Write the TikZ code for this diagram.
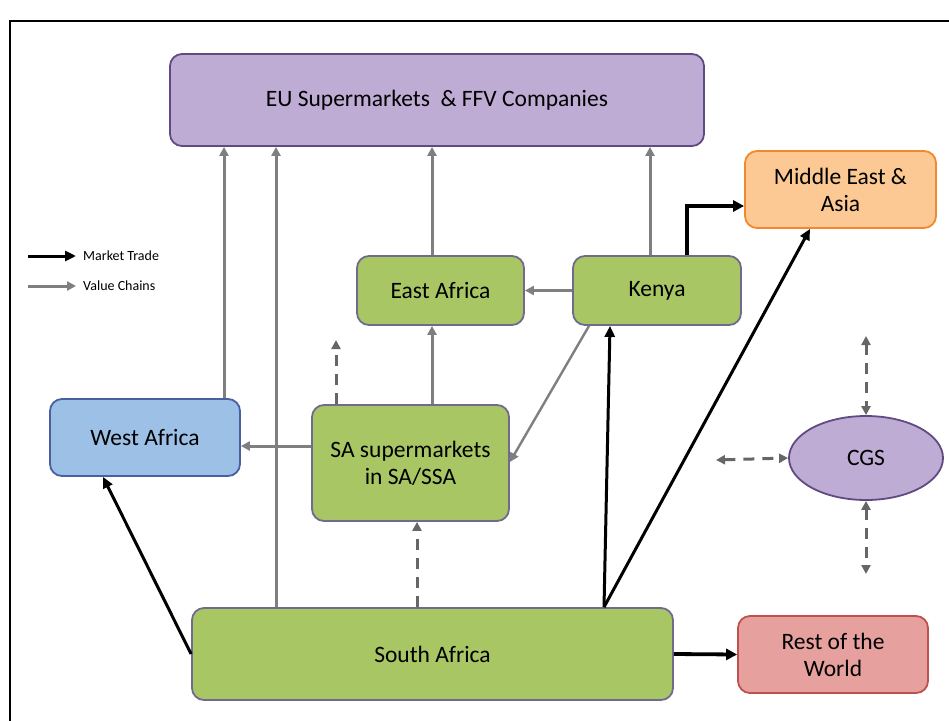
\documentclass[tikz,border=0pt]{standalone}
\usepackage{fontspec}
\setmainfont{Carlito}
\usetikzlibrary{arrows.meta,shapes.geometric,calc}
\definecolor{greenfill}{HTML}{A8C664}
\definecolor{greenline}{HTML}{6F6A8E}
\definecolor{lilacfill}{HTML}{BFACD4}
\definecolor{lilacline}{HTML}{5F4B82}
\definecolor{orangefill}{HTML}{FCC893}
\definecolor{orangeline}{HTML}{F08A2C}
\definecolor{bluefill}{HTML}{9DC0E6}
\definecolor{blueline}{HTML}{4A5FA0}
\definecolor{redfill}{HTML}{E6A09E}
\definecolor{redline}{HTML}{C0504D}
\definecolor{chain}{HTML}{7F7F7F}
\definecolor{dashcol}{HTML}{666666}
\tikzset{
  box/.style={rectangle, rounded corners=12pt, line width=1.8pt, align=center, font=\fontsize{23.5}{27}\selectfont, inner sep=0pt},
  greenbox/.style={box, fill=greenfill, draw=greenline},
  lilacbox/.style={box, fill=lilacfill, draw=lilacline},
  chainarrow/.style={draw=chain, line width=3pt, -{Triangle[length=9pt,width=9pt]}},
  tradearrow/.style={draw=black, line width=3pt, -{Triangle[length=11pt,width=10pt]}},
  thicktrade/.style={draw=black, line width=3.8pt, -{Triangle[length=11pt,width=11pt]}},
  dasharrow/.style={draw=dashcol, line width=3pt, dash pattern=on 11pt off 8pt, -{Triangle[length=9pt,width=9pt]}},
  dashboth/.style={draw=dashcol, line width=3pt, dash pattern=on 11pt off 8pt, {Triangle[length=9pt,width=9pt]}-{Triangle[length=9pt,width=9pt]}},
  legendtext/.style={font=\fontsize{14}{16}\selectfont, anchor=west, inner sep=0pt}
}
\begin{document}
\begin{tikzpicture}[x=1pt,y=-1pt]
\useasboundingbox (0,0) rectangle (949,720);
\fill[white] (0,0) rectangle (949,720);
% frame
\draw[line width=2pt] (10,725) -- (10,21) -- (955,21);

% nodes
\node[lilacbox, minimum width=534pt, minimum height=92pt] (EU) at (437,100) {EU Supermarkets \ \& FFV Companies};
\node[box, fill=orangefill, draw=orangeline, minimum width=191pt, minimum height=77pt] (ME) at (840.5,189.5) {Middle East \&\\ Asia};
\node[greenbox, minimum width=167pt, minimum height=69pt] (EA) at (440.5,290.5) {East Africa};
\node[greenbox, minimum width=168pt, minimum height=69pt] (KE) at (657,290.5) {Kenya};
\node[box, fill=bluefill, draw=blueline, minimum width=190pt, minimum height=77pt] (WA) at (145,437.5) {West Africa};
\node[greenbox, minimum width=197pt, minimum height=116pt] (SAS) at (410.5,463) {SA supermarkets\\ in SA/SSA};
\node[ellipse, fill=lilacfill, draw=lilacline, line width=1.8pt, minimum width=154pt, minimum height=84pt, inner sep=0pt, font=\fontsize{23.5}{27}\selectfont] (CGS) at (866,458) {CGS};
\node[greenbox, minimum width=481pt, minimum height=92pt] (SAF) at (432.5,654) {South Africa};
\node[box, fill=redfill, draw=redline, minimum width=190pt, minimum height=77pt] (RW) at (833,654.5) {Rest of the\\ World};

% legend
\coordinate (lt1) at (28,256);
\coordinate (lt2) at (76,256);
\coordinate (lv1) at (28,286);
\coordinate (lv2) at (76,286);
\draw[tradearrow] (lt1) -- (lt2);
\draw[chainarrow] (lv1) -- (lv2);
\node[legendtext] (ltxt) at (83,256) {Market Trade};
\node[legendtext] (lvtxt) at (83,286) {Value Chains};

% helper coordinates
\coordinate (x224) at (224,0);
\coordinate (x276) at (276,0);
\coordinate (x432) at (432,0);
\coordinate (x650) at (650,0);
\coordinate (x687) at (687,0);
\coordinate (x336) at (336,0);
\coordinate (x589) at (589,0);
\coordinate (x604) at (604,0);
\coordinate (x610) at (610,0);
\coordinate (x810) at (810,0);
\coordinate (x417) at (417,0);
\coordinate (x103) at (103,0);
\coordinate (y446) at (0,446);
\coordinate (y462) at (0,462);
\coordinate (y206) at (0,206);
\coordinate (dashend) at (336,340);
\coordinate (cgstop) at (866,336);
\coordinate (cgsleft) at (716,460);
\coordinate (cgsbot) at (866,574);

% value chains to EU
\draw[chainarrow] (WA.north -| x224) -- (EU.south -| x224);
\draw[chainarrow] (SAF.north -| x276) -- (EU.south -| x276);
\draw[chainarrow] (EA.north -| x432) -- (EU.south -| x432);
\draw[chainarrow] (KE.north -| x650) -- (EU.south -| x650);

% other value chains
\draw[chainarrow] (KE.west) -- (EA.east);
\draw[chainarrow] (SAS.north -| x432) -- (EA.south -| x432);
\draw[chainarrow] (SAS.west |- y446) -- (WA.east |- y446);
\draw[chainarrow, line width=2.4pt] (KE.south -| x589) -- (SAS.east |- y462);

% dashed
\draw[dasharrow] (SAS.north -| x336) -- (dashend);
\draw[dasharrow] (SAF.north -| x417) -- (SAS.south -| x417);
\draw[dashboth] (cgstop) -- (CGS.north);
\draw[dashboth] (cgsleft) -- (CGS.west);
\draw[dashboth] (CGS.south) -- (cgsbot);

% market trade
\draw[thicktrade] (KE.north -| x687) -- (x687 |- y206) -- (ME.west |- y206);
\draw[tradearrow] (SAF.west) -- (WA.south -| x103);
\draw[tradearrow] (SAF.north -| x604) -- (KE.south -| x610);
\draw[tradearrow] (SAF.north -| x604) -- (ME.south -| x810);
\draw[thicktrade] (SAF.east) -- (RW.west);
\end{tikzpicture}
\end{document}
